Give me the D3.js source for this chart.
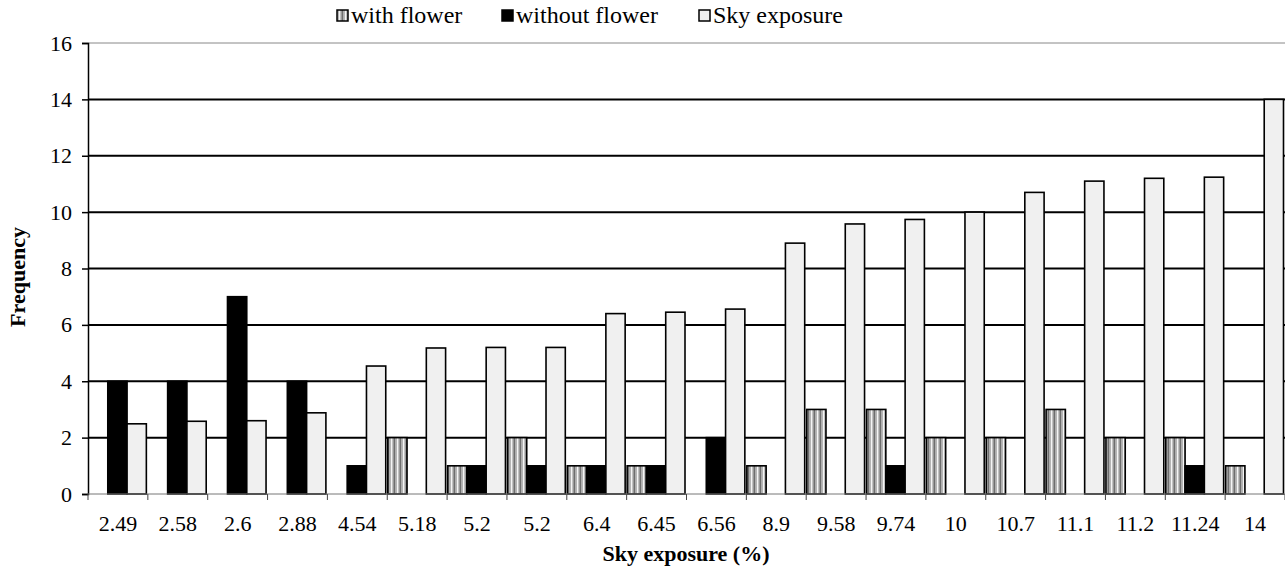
<!DOCTYPE html>
<html>
<head>
<meta charset="utf-8">
<script src="https://cdn.jsdelivr.net/npm/d3@7"></script>
<style>
  body { margin: 0; background: #fff; }
  svg text { font-family: "Liberation Serif", "DejaVu Serif", serif; fill: #000; }
</style>
</head>
<body>
<div id="chart"></div>
<script>
// chart data
const categories = ["2.49", "2.58", "2.6", "2.88", "4.54", "5.18", "5.2", "5.2", "6.4", "6.45",
  "6.56", "8.9", "9.58", "9.74", "10", "10.7", "11.1", "11.2", "11.24", "14"];
const withFlower = [0, 0, 0, 0, 0, 2, 1, 2, 1, 1, 0, 1, 3, 3, 2, 2, 3, 2, 2, 1];
const withoutFlower = [4, 4, 7, 4, 1, 0, 1, 1, 1, 1, 2, 0, 0, 1, 0, 0, 0, 0, 1, 0];
const skyExposure = [2.49, 2.58, 2.6, 2.88, 4.54, 5.18, 5.2, 5.2, 6.4, 6.45,
  6.56, 8.9, 9.58, 9.74, 10, 10.7, 11.1, 11.2, 11.24, 14];
const seriesNames = ["with flower", "without flower", "Sky exposure"];
const yTicks = [0, 2, 4, 6, 8, 10, 12, 14, 16];

const width = 1285, height = 572;
const margin = { top: 43, left: 88, bottom: 78, right: 0 };
const iwidth = width - margin.left - margin.right;
const iheight = height - margin.top - margin.bottom;

const svg = d3.select("#chart").append("svg")
  .attr("width", width)
  .attr("height", height);

// vertical stripe pattern for "with flower"
const defs = svg.append("defs");
const pat = defs.append("pattern")
  .attr("id", "stripes")
  .attr("patternUnits", "userSpaceOnUse")
  .attr("width", 6).attr("height", 6);
pat.append("rect").attr("width", 6).attr("height", 6).attr("fill", "#e0e0e0");
pat.append("rect").attr("x", 0).attr("width", 1.5).attr("height", 6).attr("fill", "#6e6e6e");
pat.append("rect").attr("x", 1.5).attr("width", 1.5).attr("height", 6).attr("fill", "#b5b5b5");
pat.append("rect").attr("x", 3).attr("width", 1.5).attr("height", 6).attr("fill", "#f5f5f5");
pat.append("rect").attr("x", 4.5).attr("width", 1.5).attr("height", 6).attr("fill", "#9a9a9a");

const fills = ["url(#stripes)", "#000", "#f0f0f0"];
const seriesData = [withFlower, withoutFlower, skyExposure];

const g = svg.append("g").attr("transform", `translate(${margin.left},${margin.top})`);

const x = d3.scaleBand()
  .domain(d3.range(categories.length))
  .range([0, iwidth]);

const xs = d3.scaleBand()
  .domain(d3.range(3))
  .range([0.5, x.bandwidth() - 1.5]);

const y = d3.scaleLinear()
  .domain([0, 16])
  .range([iheight, 0]);

// gridlines
g.append("g")
  .selectAll("line")
  .data(yTicks.filter(d => d > 0 && d < 16))
  .enter().append("line")
  .attr("x1", 0).attr("x2", iwidth)
  .attr("y1", d => y(d)).attr("y2", d => y(d))
  .attr("stroke", "#000").attr("stroke-width", 2);

// plot frame top
g.append("line").attr("x1", 0).attr("x2", iwidth).attr("y1", 0).attr("y2", 0)
  .attr("stroke", "#888").attr("stroke-width", 1);

// bars
seriesData.forEach((vals, si) => {
  g.append("g").selectAll("rect")
    .data(vals)
    .enter().append("rect")
    .attr("x", (d, i) => x(i) + xs(si))
    .attr("y", d => y(d))
    .attr("width", xs.bandwidth())
    .attr("height", d => y(0) - y(d))
    .attr("fill", fills[si])
    .attr("stroke", d => d > 0 ? "#000" : "none")
    .attr("stroke-width", 1.6);
});

// y axis
const yAxis = g.append("g")
  .call(d3.axisLeft(y).tickValues(yTicks).tickSize(6).tickPadding(10));
yAxis.attr("font-family", null).attr("font-size", null);
yAxis.select(".domain").attr("stroke", "#000").attr("stroke-width", 1.5);
yAxis.selectAll(".tick line").attr("stroke", "#000").attr("stroke-width", 1.5);
yAxis.selectAll("text").style("font-size", "22px");

// x axis: ticks between categories
const xAxisG = g.append("g").attr("transform", `translate(0,${iheight})`);
xAxisG.append("line").attr("x1", 0).attr("x2", iwidth).attr("y1", 0).attr("y2", 0)
  .attr("stroke", "#777").attr("stroke-width", 1);
xAxisG.selectAll(".xt")
  .data(d3.range(categories.length + 1))
  .enter().append("line")
  .attr("x1", d => d < categories.length ? x(d) : iwidth)
  .attr("x2", d => d < categories.length ? x(d) : iwidth)
  .attr("y1", 0).attr("y2", 6)
  .attr("stroke", "#444").attr("stroke-width", 1);
xAxisG.selectAll(".xl")
  .data(categories)
  .enter().append("text")
  .attr("x", (d, i) => x(i) + x.bandwidth() / 2)
  .attr("y", 37)
  .attr("text-anchor", "middle")
  .style("font-size", "22px")
  .text(d => d);

// axis titles
svg.append("text")
  .attr("x", 686).attr("y", 561)
  .attr("text-anchor", "middle")
  .style("font-size", "22px").style("font-weight", "bold")
  .text("Sky exposure (%)");

svg.append("text")
  .attr("transform", "translate(25,277) rotate(-90)")
  .attr("text-anchor", "middle")
  .style("font-size", "22px").style("font-weight", "bold")
  .text("Frequency");

// legend
const legendX = [337, 502, 699];
const legend = svg.append("g");
seriesNames.forEach((name, i) => {
  legend.append("rect")
    .attr("x", legendX[i]).attr("y", 10)
    .attr("width", 11).attr("height", 11)
    .attr("fill", fills[i])
    .attr("stroke", "#000").attr("stroke-width", 1.5);
  legend.append("text")
    .attr("x", legendX[i] + 14).attr("y", 23)
    .style("font-size", "24px")
    .text(name);
});
</script>
</body>
</html>
